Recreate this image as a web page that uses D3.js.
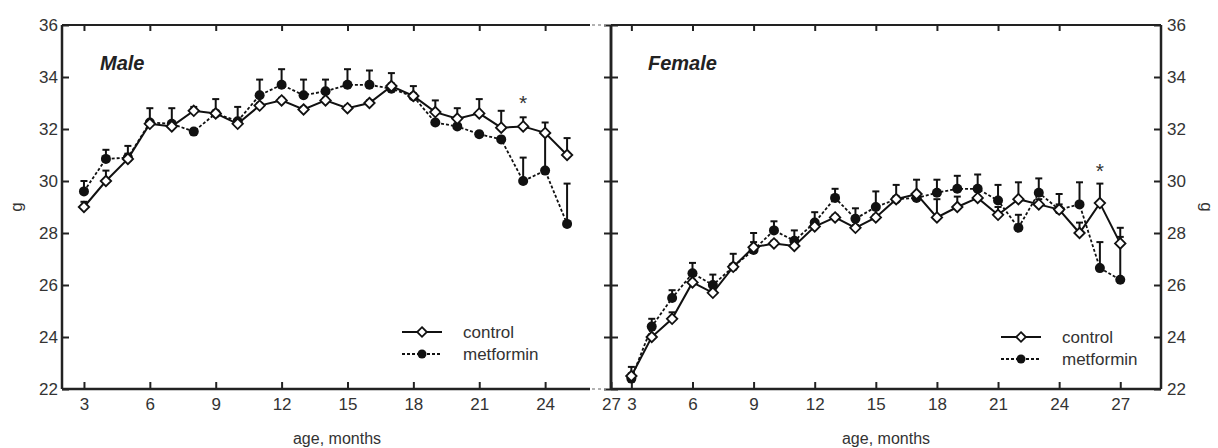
<!DOCTYPE html>
<html>
<head>
<meta charset="utf-8">
<script src="https://cdn.jsdelivr.net/npm/d3@7"></script>
<style>
  body { margin: 0; background: #fff; }
  svg text { font-family: "Liberation Sans", Arial, sans-serif; fill: #333; }
  .domain { display: none; }
  .tick line { stroke: #222; stroke-width: 2; }
</style>
</head>
<body>
<div id="container"></div>
<script>
var width = 1218, height = 448;

// months
var maleMonths = d3.range(3, 26);
var femaleMonths = d3.range(3, 28);

// body weight, g (male)
var maleControl = [29.0, 30.0, 30.85, 32.2, 32.1, 32.7, 32.6, 32.2, 32.9, 33.1, 32.75, 33.1,
    32.8, 33.0, 33.65, 33.27, 32.65, 32.4, 32.6, 32.05, 32.1, 31.85, 31.0];
var maleControlErr = [0.2, 0.4, 0.2, 0.1, 0.1, 0.15, 0.1, 0.1, 0.1, 0.1, 0.1, 0.1,
    0.1, 0.1, 0.5, 0.1, 0.45, 0.4, 0.55, 0.65, 0.35, 0.4, 0.65];
var maleMet = [29.6, 30.85, 30.9, 32.25, 32.2, 31.9, 32.6, 32.3, 33.3, 33.7, 33.3, 33.45,
    33.7, 33.7, 33.55, 33.25, 32.25, 32.1, 31.8, 31.6, 30.0, 30.4, 28.35];
var maleMetErr = [0.4, 0.35, 0.45, 0.55, 0.6, 0.1, 0.55, 0.55, 0.6, 0.6, 0.6, 0.45,
    0.6, 0.55, 0.2, 0.4, 0.1, 0.1, 0.1, 0.1, 0.9, 1.4, 1.55];

// body weight, g (female)
var femaleControl = [22.5, 24.0, 24.7, 26.1, 25.7, 26.7, 27.45, 27.6, 27.5, 28.25, 28.6, 28.2,
    28.6, 29.3, 29.5, 28.6, 29.0, 29.35, 28.7, 29.3, 29.1, 28.9, 28.0, 29.15, 27.6];
var femaleControlErr = [0.1, 0.1, 0.25, 0.1, 0.1, 0.1, 0.55, 0.1, 0.1, 0.1, 0.1, 0.1,
    0.1, 0.1, 0.55, 0.7, 0.4, 0.3, 0.3, 0.65, 0.2, 0.2, 0.4, 0.75, 0.6];
var femaleMet = [22.4, 24.4, 25.5, 26.45, 26.0, 26.7, 27.35, 28.1, 27.7, 28.4, 29.35, 28.55,
    29.0, 29.3, 29.35, 29.55, 29.7, 29.7, 29.25, 28.2, 29.55, 28.9, 29.1, 26.65, 26.2];
var femaleMetErr = [0.45, 0.3, 0.3, 0.4, 0.4, 0.5, 0.3, 0.35, 0.4, 0.4, 0.35, 0.4,
    0.6, 0.55, 0.2, 0.5, 0.5, 0.55, 0.6, 0.5, 0.55, 0.6, 0.85, 1.0, 1.65];

var xTicks = [3, 6, 9, 12, 15, 18, 21, 24, 27];
var yTicks = [22, 24, 26, 28, 30, 32, 34, 36];

var svg = d3.select("#container")
    .append("svg")
    .attr("width", width)
    .attr("height", height);

var top_ = 25, bottom = 389;

function makePanel(opts) {
    var x = d3.scaleLinear().domain(opts.xDomain).range([opts.left, opts.right]);
    var y = d3.scaleLinear().domain([22, 36]).range([bottom, top_]);
    var g = svg.append("g");

    // frame
    g.append("line").attr("x1", opts.left).attr("x2", opts.left)
        .attr("y1", top_).attr("y2", bottom).attr("stroke", "#222").attr("stroke-width", 2.5);
    g.append("line").attr("x1", opts.right).attr("x2", opts.right)
        .attr("y1", top_).attr("y2", bottom).attr("stroke", "#222").attr("stroke-width", 2.5);
    g.append("line").attr("x1", opts.frameL).attr("x2", opts.frameR)
        .attr("y1", top_).attr("y2", top_).attr("stroke", "#222").attr("stroke-width", 2);
    g.append("line").attr("x1", opts.frameL).attr("x2", opts.frameR)
        .attr("y1", bottom).attr("y2", bottom).attr("stroke", "#222").attr("stroke-width", 2.5);

    // x axes (ticks inward)
    g.append("g").attr("transform", "translate(0," + bottom + ")")
        .call(d3.axisBottom(x).tickValues(xTicks).tickSize(-7).tickPadding(9))
        .selectAll("text").style("font-size", "17px");
    g.append("g").attr("transform", "translate(0," + top_ + ")")
        .call(d3.axisTop(x).tickValues(xTicks.filter(function (d) { return d < 27; })).tickSize(-6).tickFormat(""));

    // y axes
    var yl = g.append("g").attr("transform", "translate(" + opts.left + ",0)")
        .call(d3.axisLeft(y).tickValues(yTicks).tickSize(-7).tickPadding(4)
            .tickFormat(opts.labelsLeft ? d3.format("d") : ""));
    yl.selectAll("text").style("font-size", "17px");
    var yr = g.append("g").attr("transform", "translate(" + opts.right + ",0)")
        .call(d3.axisRight(y).tickValues(yTicks).tickSize(-7).tickPadding(6)
            .tickFormat(opts.labelsLeft ? "" : d3.format("d")));
    yr.selectAll("text").style("font-size", "17px");

    // error bars (upward)
    function errBars(months, vals, errs) {
        var eg = g.append("g");
        months.forEach(function (m, i) {
            var cx = x(m), y0 = y(vals[i]), y1 = y(vals[i] + errs[i]);
            eg.append("line").attr("x1", cx).attr("x2", cx).attr("y1", y0).attr("y2", y1)
                .attr("stroke", "#111").attr("stroke-width", 2);
            eg.append("line").attr("x1", cx - 3.5).attr("x2", cx + 3.5).attr("y1", y1).attr("y2", y1)
                .attr("stroke", "#111").attr("stroke-width", 2);
        });
    }
    errBars(opts.months, opts.met, opts.metErr);
    errBars(opts.months, opts.control, opts.controlErr);

    var line = d3.line()
        .x(function (d) { return x(d[0]); })
        .y(function (d) { return y(d[1]); });

    g.append("path")
        .datum(opts.months.map(function (m, i) { return [m, opts.met[i]]; }))
        .attr("d", line).attr("fill", "none").attr("stroke", "#111")
        .attr("stroke-width", 1.8).attr("stroke-dasharray", "3,2");
    g.append("path")
        .datum(opts.months.map(function (m, i) { return [m, opts.control[i]]; }))
        .attr("d", line).attr("fill", "none").attr("stroke", "#111").attr("stroke-width", 2);

    g.append("g").selectAll("circle")
        .data(opts.months.map(function (m, i) { return [m, opts.met[i]]; }))
        .enter().append("circle")
        .attr("cx", function (d) { return x(d[0]); })
        .attr("cy", function (d) { return y(d[1]); })
        .attr("r", 5).attr("fill", "#111");

    g.append("g").selectAll("path")
        .data(opts.months.map(function (m, i) { return [m, opts.control[i]]; }))
        .enter().append("path")
        .attr("d", d3.symbol().type(d3.symbolDiamond2).size(70))
        .attr("transform", function (d) { return "translate(" + x(d[0]) + "," + y(d[1]) + ")"; })
        .attr("fill", "#fff").attr("stroke", "#111").attr("stroke-width", 1.8);

    // asterisk
    g.append("text").attr("x", x(opts.star[0])).attr("y", y(opts.star[1]))
        .attr("text-anchor", "middle").style("font-size", "21px").text("*");

    // title
    g.append("text").attr("x", opts.titleX).attr("y", 70)
        .style("font-size", "20px").style("font-weight", "bold").style("font-style", "italic")
        .style("fill", "#222").text(opts.title);

    // x label
    g.append("text").attr("x", opts.xLabelX).attr("y", 444)
        .attr("text-anchor", "middle").style("font-size", "16px").text("age, months");

    // legend
    var lg = g.append("g").attr("transform", "translate(" + opts.legend[0] + "," + opts.legend[1] + ")");
    lg.append("line").attr("x1", 0).attr("x2", 40).attr("y1", 0).attr("y2", 0)
        .attr("stroke", "#111").attr("stroke-width", 2);
    lg.append("path").attr("d", d3.symbol().type(d3.symbolDiamond2).size(60))
        .attr("transform", "translate(20,0)")
        .attr("fill", "#fff").attr("stroke", "#111").attr("stroke-width", 1.8);
    lg.append("line").attr("x1", 0).attr("x2", 40).attr("y1", 22).attr("y2", 22)
        .attr("stroke", "#111").attr("stroke-width", 1.8).attr("stroke-dasharray", "3,2");
    lg.append("circle").attr("cx", 20).attr("cy", 22).attr("r", 4.5).attr("fill", "#111");
    lg.append("text").attr("x", 61).attr("y", 6).style("font-size", "17px").text("control");
    lg.append("text").attr("x", 61).attr("y", 28).style("font-size", "17px").text("metformin");
}

makePanel({
    xDomain: [2, 27], left: 62, right: 611, frameL: 62, frameR: 590,
    labelsLeft: true,
    months: maleMonths, control: maleControl, controlErr: maleControlErr,
    met: maleMet, metErr: maleMetErr,
    star: [23, 32.75], title: "Male", titleX: 100, xLabelX: 337,
    legend: [402, 332]
});

makePanel({
    xDomain: [2, 29], left: 611, right: 1161, frameL: 611, frameR: 1161,
    labelsLeft: false,
    months: femaleMonths, control: femaleControl, controlErr: femaleControlErr,
    met: femaleMet, metErr: femaleMetErr,
    star: [26, 30.1], title: "Female", titleX: 648, xLabelX: 886,
    legend: [1001, 337]
});

// break marks between the panels
svg.append("line").attr("x1", 592).attr("x2", 606).attr("y1", top_).attr("y2", top_)
    .attr("stroke", "#999").attr("stroke-width", 1.5).attr("stroke-dasharray", "3,3");
svg.append("line").attr("x1", 592).attr("x2", 606).attr("y1", bottom).attr("y2", bottom)
    .attr("stroke", "#999").attr("stroke-width", 1.5).attr("stroke-dasharray", "3,3");

// y labels
svg.append("text").attr("transform", "translate(22,207) rotate(-90)")
    .attr("text-anchor", "middle").style("font-size", "17px").text("g");
svg.append("text").attr("transform", "translate(1201,207) rotate(90)")
    .attr("text-anchor", "middle").style("font-size", "17px").text("g");
</script>
</body>
</html>
